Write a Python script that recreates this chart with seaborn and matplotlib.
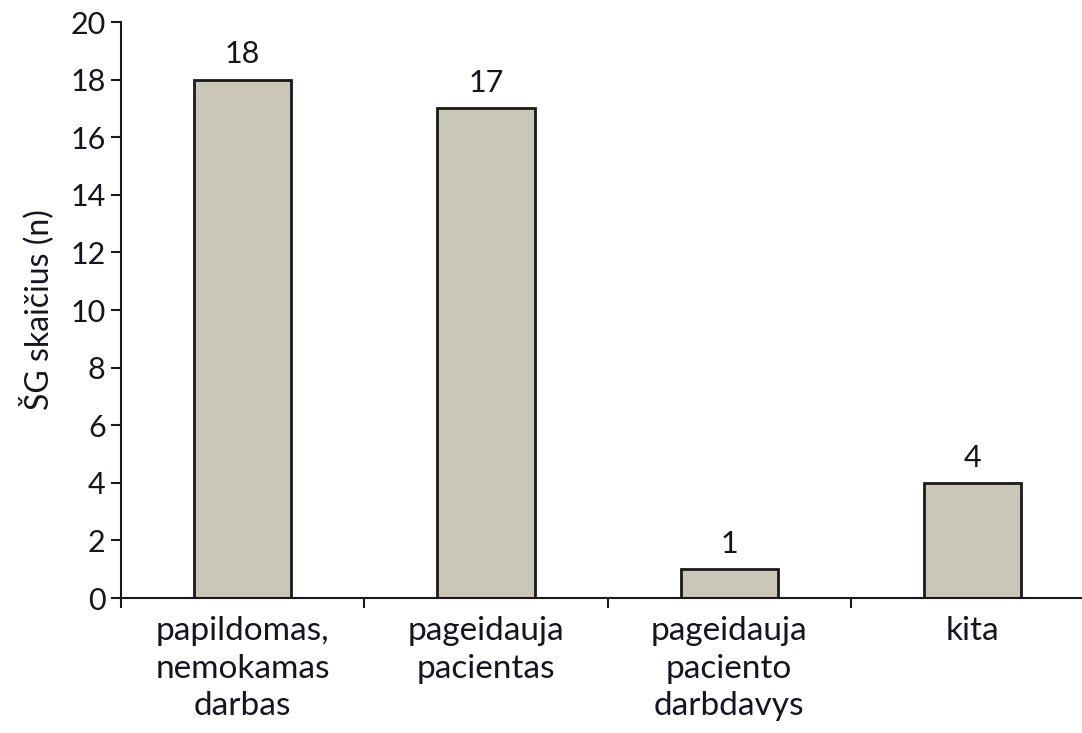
import numpy as np
import pandas as pd
import matplotlib
matplotlib.use("Agg")
import matplotlib.pyplot as plt
import seaborn as sns
from matplotlib.ticker import FixedLocator

categories = ["papildomas,\nnemokamas\ndarbas", "pageidauja\npacientas",
              "pageidauja\npaciento\ndarbdavys", "kita"]
counts = [18, 17, 1, 4]
y_ticks = list(range(0, 21, 2))

sns.set_style("ticks")
plt.rcParams["font.family"] = ["Lato", "DejaVu Sans"]

df = pd.DataFrame({"category": categories, "count": counts})

fig = plt.figure(figsize=(10.82, 7.33), dpi=100)
ax = fig.add_axes([121 / 1082, 1 - 598 / 733, 1 - 121 / 1082, (598 - 22) / 733])

sns.barplot(data=df, x="category", y="count", color="#cac6b8", edgecolor="#1a1a1a",
            linewidth=2, width=0.4, saturation=1, ax=ax)

for c in ax.containers:
    ax.bar_label(c, padding=8, fontsize=22, color="#151520")

ax.set_ylim(0, 20)
ax.set_xlim(-0.5, 3.45)
ax.set_yticks(y_ticks)
ax.tick_params(axis="y", labelsize=22, length=7, width=1.5, colors="#1a1a1a",
               labelcolor="#151520", pad=4)

# category ticks sit on the boundaries between groups
ax.xaxis.set_minor_locator(FixedLocator(np.arange(-0.5, 3.0, 1.0)))
ax.tick_params(axis="x", which="major", length=0, labelsize=24, labelcolor="#151520", pad=13)
ax.tick_params(axis="x", which="minor", length=7, width=1.5, color="#1a1a1a")
for lbl in ax.get_xticklabels():
    lbl.set_linespacing(1.32)

ax.set_xlabel("")
ax.set_ylabel("ŠG skaičius (n)", fontsize=23, color="#151520", labelpad=12)

for side in ["top", "right"]:
    ax.spines[side].set_visible(False)
for side in ["left", "bottom"]:
    ax.spines[side].set_linewidth(1.5)
    ax.spines[side].set_color("#1a1a1a")

fig.savefig("out.png", dpi=100)
